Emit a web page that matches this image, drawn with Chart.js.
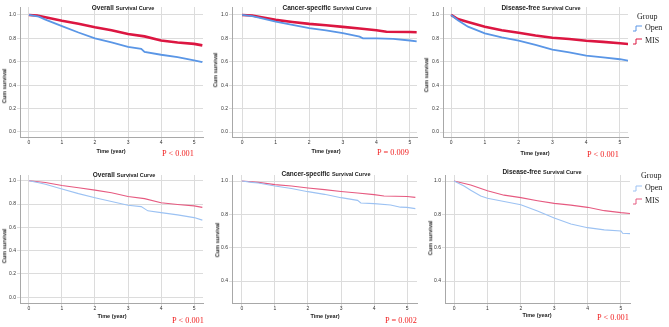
<!DOCTYPE html>
<html><head><meta charset="utf-8">
<script src="https://cdn.jsdelivr.net/npm/chart.js@4.4.1/dist/chart.umd.min.js"></script>
<style>
html,body{margin:0;padding:0;background:#fff;}
#wrap{position:relative;width:669px;height:327px;overflow:hidden;font-family:"Liberation Sans",Arial,sans-serif;}
canvas{position:absolute;}
.t{position:absolute;transform:translate(-50%,-50%);white-space:nowrap;color:#222;line-height:1;}
.title b{font-size:6.5px;}
.title span{font-size:5.5px;font-weight:bold;margin-left:2px;}
.xl{font-size:5.5px;font-weight:bold;}
.yl{font-size:5.5px;font-weight:bold;transform:translate(-50%,-50%) rotate(-90deg);}
.p{font-family:"Liberation Serif","Times New Roman",serif;font-size:8.3px;color:#f01e1e;}
.lg{position:absolute;font-family:"Liberation Serif","Times New Roman",serif;font-size:8px;color:#222;line-height:1;white-space:nowrap;}
.lg svg{vertical-align:middle;margin-right:3px;}
</style>
</head><body><div id="wrap"></div>
<script>
// ---- data ----
const panelTitles = ['Overall', 'Cancer-specific', 'Disease-free'];
const groups = ['Open', 'MIS'];
const pValues = ['P < 0.001', 'P = 0.009', 'P < 0.001', 'P < 0.001', 'P = 0.002', 'P < 0.001'];
const xTickYears = [0, 1, 2, 3, 4, 5];

// top row
const tOverallOpen = [[0,1],[0.3,0.985],[0.5,0.96],[1,0.905],[1.5,0.85],[2,0.8],[2.5,0.765],[3,0.727],[3.4,0.71],[3.5,0.685],[4,0.66],[4.5,0.64],[5,0.612],[5.25,0.597]];
const tOverallMis  = [[0,1],[0.25,0.995],[0.5,0.98],[1,0.95],[1.5,0.925],[2,0.895],[2.5,0.87],[3,0.838],[3.5,0.817],[4,0.782],[4.5,0.765],[5,0.753],[5.25,0.74]];
const tCancerOpen  = [[0,1],[0.3,0.99],[0.5,0.978],[1,0.943],[1.5,0.915],[2,0.888],[2.5,0.868],[3,0.844],[3.5,0.815],[3.6,0.8],[4,0.8],[4.5,0.795],[5,0.782],[5.2,0.774]];
const tCancerMis   = [[0,1],[0.3,0.995],[0.5,0.985],[1,0.958],[1.5,0.94],[2,0.924],[2.5,0.912],[3,0.898],[3.5,0.885],[4,0.87],[4.3,0.857],[5,0.855],[5.2,0.853]];
const tDfsOpen     = [[0,1],[0.2,0.955],[0.5,0.9],[1,0.843],[1.5,0.808],[2,0.78],[2.5,0.745],[3,0.705],[3.5,0.68],[4,0.652],[4.5,0.638],[5,0.622],[5.25,0.61]];
const tDfsMis      = [[0,1],[0.2,0.965],[0.5,0.94],[1,0.9],[1.5,0.87],[2,0.848],[2.5,0.825],[3,0.806],[3.5,0.795],[4,0.78],[4.5,0.77],[5,0.758],[5.25,0.752]];
// bottom row
const bOverallOpen = [[0,1],[0.3,0.983],[0.5,0.97],[1,0.93],[1.5,0.89],[2,0.855],[2.5,0.823],[3,0.79],[3.4,0.778],[3.6,0.742],[4,0.727],[4.5,0.707],[5,0.684],[5.25,0.662]];
const bOverallMis  = [[0,1],[0.5,0.985],[1,0.96],[1.5,0.94],[2,0.92],[2.5,0.897],[3,0.865],[3.5,0.847],[4,0.812],[4.5,0.797],[5,0.785],[5.25,0.772]];
const bCancerOpen  = [[0,1],[0.3,0.992],[0.5,0.988],[1,0.97],[1.5,0.955],[2,0.936],[2.5,0.92],[3,0.9],[3.5,0.884],[3.6,0.868],[4,0.864],[4.5,0.856],[4.8,0.843],[5,0.842],[5.25,0.834]];
const bCancerMis   = [[0,1],[0.5,0.992],[1,0.978],[1.5,0.97],[2,0.958],[2.5,0.948],[3,0.937],[3.5,0.928],[4,0.918],[4.3,0.91],[5,0.907],[5.25,0.902]];
const bDfsOpen     = [[0,1],[0.3,0.97],[0.5,0.945],[0.8,0.91],[1,0.897],[1.5,0.877],[2,0.858],[2.5,0.82],[3,0.778],[3.5,0.742],[4,0.72],[4.5,0.707],[5,0.7],[5.05,0.686],[5.27,0.684]];
const bDfsMis      = [[0,1],[0.5,0.976],[1,0.942],[1.5,0.915],[2,0.9],[2.5,0.882],[3,0.866],[3.5,0.855],[4,0.842],[4.5,0.822],[5,0.81],[5.27,0.805]];

// ---- layout ----
const panels = [
  {L:20, R:203, T:7, B:137, xmin:-0.27, xmax:5.27, ymin:-0.043, ymax:1.068, open:tOverallOpen, mis:tOverallMis, row:0, title:0,
   tc:[123,5], xl:[111,152], pv:[178,154], yl:[5,86]},
  {L:232, R:417, T:7, B:137, xmin:-0.3, xmax:5.21, ymin:-0.042, ymax:1.068, open:tCancerOpen, mis:tCancerMis, row:0, title:1,
   tc:[327,5], xl:[326,152], pv:[393,153], yl:[216,70]},
  {L:443, R:628, T:7, B:137, xmin:-0.24, xmax:5.24, ymin:-0.042, ymax:1.068, open:tDfsOpen, mis:tDfsMis, row:0, title:2,
   tc:[541,5], xl:[535,154], pv:[603,155], yl:[427,75]},
  {L:20, R:203, T:175, B:303, xmin:-0.27, xmax:5.27, ymin:-0.05, ymax:1.05, open:bOverallOpen, mis:bOverallMis, row:1, title:0,
   tc:[124,172], xl:[112,317], pv:[188,321], yl:[5,246]},
  {L:232, R:417, T:175, B:303, xmin:-0.3, xmax:5.3, ymin:0.268, ymax:1.036, open:bCancerOpen, mis:bCancerMis, row:1, title:1,
   tc:[326,171], xl:[325,317], pv:[401,321], yl:[218,240]},
  {L:445, R:630, T:175, B:303, xmin:-0.27, xmax:5.27, ymin:0.268, ymax:1.036, open:bDfsOpen, mis:bDfsMis, row:1, title:2,
   tc:[542,169], xl:[537,316], pv:[613,318], yl:[431,238]}
];
const rowStyle = [
  {open:'#5a96e6', mis:'#dc1641', wOpen:1.8, wMis:2.6},
  {open:'#9cc2f3', mis:'#e65a80', wOpen:1.1, wMis:1.1}
];
const legends = [{x:648, y:17, oy:28, my:41, row:0}, {x:652, y:176, oy:188, my:201, row:1}];

const wrap = document.getElementById('wrap');
function addText(cls, html, x, y){
  const d = document.createElement('div');
  d.className = 't ' + cls; d.innerHTML = html;
  d.style.left = x + 'px'; d.style.top = y + 'px';
  wrap.appendChild(d);
}
const toXY = arr => arr.map(p => ({x:p[0], y:p[1]}));

panels.forEach((p, i) => {
  const padTop = 4, yW = 20, xH = 12, padR = 2;
  const w = p.R - p.L + yW + padR, h = p.B - p.T + padTop + xH;
  const c = document.createElement('canvas');
  c.width = w; c.height = h;
  c.style.width = w + 'px'; c.style.height = h + 'px';
  c.style.left = (p.L - yW) + 'px'; c.style.top = (p.T - padTop) + 'px';
  wrap.appendChild(c);
  const st = rowStyle[p.row];
  const gridCfg = {color:'#dcdcdc', lineWidth:1, tickLength:3, drawTicks:true};
  new Chart(c, {
    type:'line',
    data:{datasets:[
      {label:groups[0], data:toXY(p.open), borderColor:st.open, borderWidth:st.wOpen, pointRadius:0, fill:false, tension:0},
      {label:groups[1], data:toXY(p.mis), borderColor:st.mis, borderWidth:st.wMis, pointRadius:0, fill:false, tension:0}
    ]},
    options:{
      responsive:false, animation:false, devicePixelRatio:1,
      layout:{padding:{top:padTop, right:padR, left:0, bottom:0}},
      plugins:{legend:{display:false}, tooltip:{enabled:false}},
      scales:{
        x:{type:'linear', min:p.xmin, max:p.xmax,
           afterFit:s => { s.height = xH; },
           afterBuildTicks:s => { s.ticks = xTickYears.map(v => ({value:v})); },
           ticks:{font:{size:5, family:'Liberation Sans'}, color:'#333', padding:0, maxRotation:0, autoSkip:false, callback:v => String(v)},
           grid:gridCfg, border:{color:'#a8a8a8', width:1}},
        y:{type:'linear', min:p.ymin, max:p.ymax,
           afterFit:s => { s.width = yW; },
           ticks:{stepSize:0.2, includeBounds:false, font:{size:5, family:'Liberation Sans'}, color:'#333', padding:1, callback:v => Number(v).toFixed(1)},
           grid:gridCfg, border:{color:'#a8a8a8', width:1}}
      }
    }
  });
  addText('title', '<b>' + panelTitles[p.title] + '</b><span>Survival Curve</span>', p.tc[0], p.tc[1]);
  addText('xl', 'Time (year)', p.xl[0], p.xl[1]);
  addText('yl', 'Cum survival', p.yl[0], p.yl[1]);
  addText('p', pValues[i], p.pv[0], p.pv[1]);
});

legends.forEach(l => {
  const st = rowStyle[l.row];
  const g = document.createElement('div'); g.className = 'lg';
  g.style.left = (l.x - 11) + 'px'; g.style.top = (l.y - 4) + 'px'; g.textContent = 'Group';
  wrap.appendChild(g);
  [[groups[0], st.open, l.oy], [groups[1], st.mis, l.my]].forEach(([name, col, y]) => {
    const d = document.createElement('div'); d.className = 'lg';
    d.style.left = '633px'; d.style.top = (y - 4) + 'px';
    d.innerHTML = '<svg width="9" height="7"><polyline points="0,6 3,6 3,1 9,1" fill="none" stroke="' + col + '" stroke-width="1"/></svg>' + name;
    wrap.appendChild(d);
  });
});
</script></body></html>
